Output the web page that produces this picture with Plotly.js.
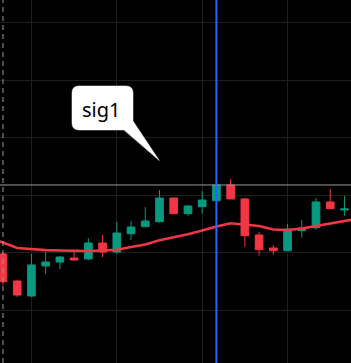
<!DOCTYPE html>
<html>
<head>
<meta charset="utf-8">
<script src="https://cdn.plot.ly/plotly-3.0.1.min.js"></script>
<style>html,body{margin:0;padding:0;background:#000;}#chart{width:351px;height:363px;}</style>
</head>
<body>
<div id="chart"></div>
<script>
// ---- data ----
const bars  = [0,1,2,3,4,5,6,7,8,9,10,11,12,13,14,15,16,17,18,19,20,21,22,23,24];
const open  = [109.76,105.05,102.44,107.67,108.36,109.06,108.89,111.67,110.10,113.29,114.51,115.38,119.51,116.78,118.00,119.04,121.78,119.34,113.07,110.80,110.33,113.82,114.34,118.82,117.42];
const high  = [109.93,105.28,109.76,110.10,109.41,110.10,112.54,113.07,115.33,115.51,117.94,120.91,119.51,118.29,120.73,123.20,122.82,119.51,113.59,111.32,114.98,115.68,119.51,121.08,119.86];
const low   = [104.36,102.26,102.26,106.27,107.14,108.54,108.71,109.23,109.76,112.20,114.45,115.21,116.78,116.43,116.78,119.04,119.34,111.03,109.46,109.63,110.33,112.60,113.99,117.65,116.43];
const close = [104.93,102.61,107.84,108.36,109.23,108.71,111.67,110.10,113.41,114.46,115.51,119.51,116.78,118.12,119.16,121.78,119.34,112.94,110.51,110.33,114.11,114.29,118.82,117.65,117.60];
const maBars = [-1,0,1,2,3,4,5,6,7,8,9,10,11,12,13,14,15,16,17,18,19,20,21,22,23,24,25];
const maVals = [112.46,111.76,110.80,110.59,110.44,110.37,110.30,110.28,110.37,110.50,110.98,111.41,112.16,112.67,113.19,113.85,114.55,115.10,114.90,114.63,114.02,113.94,114.20,114.63,114.98,115.38,115.94];
const signalBar = 15;     // blue vertical marker
const startBar = 0;       // dashed session marker
const signalLabel = "sig1";
const lastPrice = close[signalBar];

// ---- layout helpers (pixel -> paper) ----
const W = 351, H = 363;
const px = x => (x / W).toFixed(4);
const py = y => (1 - y / H).toFixed(4);
function P(pts){ return pts; }
const bubble =
  "M " + px(79) + "," + py(86) +
  " L " + px(126) + "," + py(86) +
  " Q " + px(133) + "," + py(86) + " " + px(133) + "," + py(93) +
  " L " + px(133) + "," + py(121) +
  " L " + px(159.3) + "," + py(160.5) +
  " L " + px(124) + "," + py(130) +
  " L " + px(79) + "," + py(130) +
  " Q " + px(72) + "," + py(130) + " " + px(72) + "," + py(123) +
  " L " + px(72) + "," + py(93) +
  " Q " + px(72) + "," + py(86) + " " + px(79) + "," + py(86) + " Z";

const GREEN = "#089981", RED = "#f23645";

const traces = [
  {
    type: "scatter", mode: "lines", x: maBars, y: maVals,
    line: {color: RED, width: 2.6}, hoverinfo: "skip", showlegend: false
  },
  {
    type: "candlestick", x: bars, open: open, high: high, low: low, close: close,
    increasing: {line: {color: GREEN, width: 1}, fillcolor: GREEN},
    decreasing: {line: {color: RED, width: 1}, fillcolor: RED},
    whiskerwidth: 0, showlegend: false, hoverinfo: "skip"
  }
];

const layout = {
  width: W, height: H,
  margin: {l: 0, r: 0, t: 0, b: 0, pad: 0},
  paper_bgcolor: "#000", plot_bgcolor: "#000",
  showlegend: false,
  boxgap: 0.23,
  xaxis: {
    range: [-0.21, 24.46], showticklabels: false, ticks: "",
    showgrid: true, gridcolor: "#1f1f1f", gridwidth: 1,
    tick0: 2, dtick: 6, zeroline: false, showline: false,
    rangeslider: {visible: false}, fixedrange: true
  },
  yaxis: {
    range: [90.77, 154.0], showticklabels: false, ticks: "",
    showgrid: true, gridcolor: "#1f1f1f", gridwidth: 1,
    tick0: 100, dtick: 10, zeroline: false, showline: false, fixedrange: true
  },
  shapes: [
    {type: "line", xref: "paper", x0: 0, x1: 1, yref: "y", y0: lastPrice, y1: lastPrice,
     line: {color: "#9a9a9a", width: 1}, layer: "above"},
    {type: "line", xref: "x", x0: startBar, x1: startBar, yref: "paper", y0: 0, y1: 1,
     line: {color: "#9a9aa6", width: 1, dash: "5px,4px"}, layer: "above"},
    {type: "line", xref: "x", x0: signalBar, x1: signalBar, yref: "paper", y0: 0, y1: 1,
     line: {color: "#2962ff", width: 2}, layer: "above"},
    {type: "path", xref: "paper", yref: "paper", path: bubble,
     fillcolor: "#ffffff", line: {color: "#ffffff", width: 0.5}, layer: "above"}
  ],
  annotations: [
    {xref: "paper", yref: "paper", x: 101 / W, y: 1 - 109 / H,
     xanchor: "center", yanchor: "middle", showarrow: false,
     text: signalLabel, font: {family: "Noto Sans", size: 20, color: "#000"}}
  ]
};

Plotly.newPlot("chart", traces, layout, {displayModeBar: false, staticPlot: true});
</script>
</body>
</html>
